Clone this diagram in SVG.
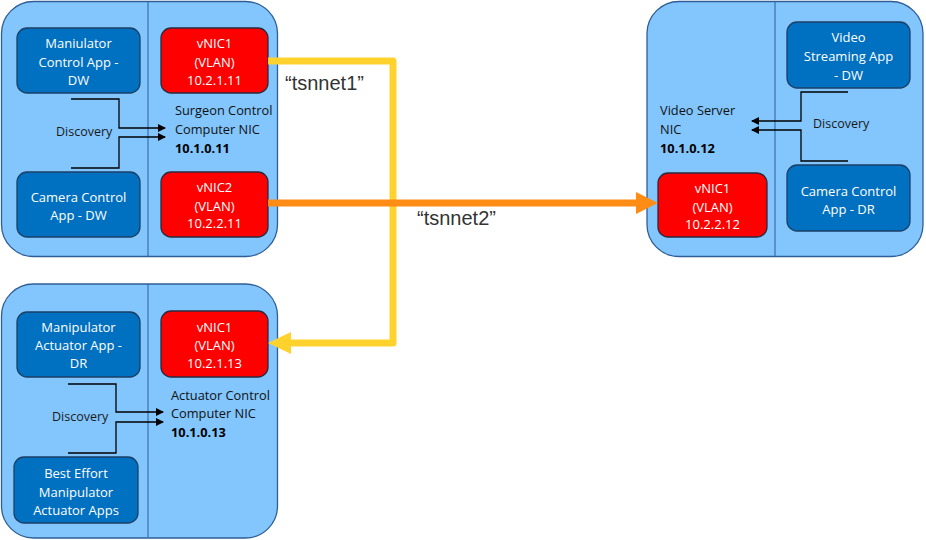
<svg xmlns="http://www.w3.org/2000/svg" width="926" height="540" viewBox="0 0 926 540">
<defs>
<style>
.cont{fill:#82c6fd;stroke:#2f5e96;stroke-width:1.3}
.div{stroke:#2f5e96;stroke-width:1}
.app{fill:#0070c0;stroke:#1c3f66;stroke-width:1.3}
.nic{fill:#ff0000;stroke:#2a2a40;stroke-width:1.3}
.bt{font-family:"Open Sans","Liberation Sans",sans-serif;font-size:13px;fill:#ffffff;text-anchor:middle}
.lt{font-family:"Open Sans","Liberation Sans",sans-serif;font-size:12.8px;fill:#111111}
.ip{font-family:"Open Sans","Liberation Sans",sans-serif;font-size:12.8px;fill:#000000;font-weight:bold}
.disc{font-family:"Open Sans","Liberation Sans",sans-serif;font-size:12.5px;fill:#1a1a1a}
.dl{fill:none;stroke:#000000;stroke-width:1.3;marker-end:url(#ah)}
.net{font-family:"Liberation Sans",Arial,sans-serif;font-size:20px;fill:#333333}
</style>
<marker id="ah" markerWidth="8" markerHeight="8" refX="7" refY="4" orient="auto" markerUnits="userSpaceOnUse">
<path d="M0,0 L8,4 L0,8 Z" fill="#000000"/>
</marker>
</defs>

<g id="surgeon-computer">
<rect class="cont" x="1.5" y="1.5" width="276" height="255" rx="32"/>
<line class="div" x1="148" y1="2" x2="148" y2="256"/>
<text class="lt" x="175" y="115">Surgeon Control</text>
<text class="lt" x="175" y="134">Computer NIC</text>
<text class="ip" x="175" y="153">10.1.0.11</text>
<text class="disc" x="56" y="136">Discovery</text>
</g>
<g id="maniulator-app">
<rect class="app" x="17" y="28" width="123" height="65" rx="10"/>
<text class="bt" x="78.5" y="48">Maniulator</text>
<text class="bt" x="78.5" y="67">Control App -</text>
<text class="bt" x="78.5" y="85">DW</text>
</g>
<g id="camera-app-dw">
<rect class="app" x="17" y="172" width="123" height="65" rx="10"/>
<text class="bt" x="78.5" y="202">Camera Control</text>
<text class="bt" x="78.5" y="220">App - DW</text>
</g>
<g id="s-vnic1">
<rect class="nic" x="161" y="28" width="107" height="65" rx="10"/>
<text class="bt" x="214.5" y="48">vNIC1</text>
<text class="bt" x="214.5" y="67">(VLAN)</text>
<text class="bt" x="214.5" y="85">10.2.1.11</text>
</g>
<g id="s-vnic2">
<rect class="nic" x="161" y="172" width="107" height="65" rx="10"/>
<text class="bt" x="214.5" y="192">vNIC2</text>
<text class="bt" x="214.5" y="211">(VLAN)</text>
<text class="bt" x="214.5" y="228">10.2.2.11</text>
</g>

<g id="actuator-computer">
<rect class="cont" x="1.5" y="284" width="276" height="254" rx="32"/>
<line class="div" x1="148" y1="284" x2="148" y2="537"/>
<text class="lt" x="171" y="400">Actuator Control</text>
<text class="lt" x="171" y="418">Computer NIC</text>
<text class="ip" x="171" y="437">10.1.0.13</text>
<text class="disc" x="52" y="421">Discovery</text>
</g>
<g id="manipulator-app">
<rect class="app" x="17" y="312" width="123" height="65" rx="10"/>
<text class="bt" x="78.5" y="332">Manipulator</text>
<text class="bt" x="78.5" y="350">Actuator App -</text>
<text class="bt" x="78.5" y="368">DR</text>
</g>
<g id="best-effort-apps">
<rect class="app" x="14" y="457" width="124" height="66" rx="10"/>
<text class="bt" x="76" y="478">Best Effort</text>
<text class="bt" x="76" y="497">Manipulator</text>
<text class="bt" x="76" y="515">Actuator Apps</text>
</g>
<g id="a-vnic1">
<rect class="nic" x="161" y="311" width="107" height="66" rx="10"/>
<text class="bt" x="214.5" y="332">vNIC1</text>
<text class="bt" x="214.5" y="350">(VLAN)</text>
<text class="bt" x="214.5" y="368">10.2.1.13</text>
</g>

<g id="video-server">
<rect class="cont" x="647" y="1.5" width="276" height="255" rx="32"/>
<line class="div" x1="775" y1="2" x2="775" y2="256"/>
<text class="lt" x="660" y="115">Video Server</text>
<text class="lt" x="660" y="134">NIC</text>
<text class="ip" x="660" y="153">10.1.0.12</text>
<text class="disc" x="813" y="128">Discovery</text>
</g>
<g id="video-streaming-app">
<rect class="app" x="787" y="22" width="123" height="66" rx="10"/>
<text class="bt" x="848.5" y="42">Video</text>
<text class="bt" x="848.5" y="61">Streaming App</text>
<text class="bt" x="848.5" y="80">- DW</text>
</g>
<g id="camera-app-dr">
<rect class="app" x="787" y="165" width="123" height="66" rx="10"/>
<text class="bt" x="848.5" y="196">Camera Control</text>
<text class="bt" x="848.5" y="214">App - DR</text>
</g>
<g id="v-vnic1">
<rect class="nic" x="658" y="173" width="109" height="64" rx="10"/>
<text class="bt" x="712.5" y="193">vNIC1</text>
<text class="bt" x="712.5" y="212">(VLAN)</text>
<text class="bt" x="712.5" y="229">10.2.2.12</text>
</g>

<g id="connectors">
<path class="dl" d="M71,99 H119 V128 H165"/>
<path class="dl" d="M71,168 H119 V137 H165"/>
<path class="dl" d="M68,384 H116 V412 H163"/>
<path class="dl" d="M68,453 H116 V422 H163"/>
<path class="dl" d="M848,92 H801 V121 H752"/>
<path class="dl" d="M848,161 H801 V130 H752"/>
<path d="M268,61 H393 V343 H289" fill="none" stroke="#ffd22e" stroke-width="7" stroke-linejoin="round"/>
<polygon points="268,343 291,332 291,354" fill="#ffd22e"/>
<path d="M268,203 H638" fill="none" stroke="#ff8c14" stroke-width="7"/>
<polygon points="658,203 636,192 636,214" fill="#ff8c14"/>
<text class="net" x="285" y="90">“tsnnet1”</text>
<text class="net" x="417" y="225">“tsnnet2”</text>
</g>
</svg>
